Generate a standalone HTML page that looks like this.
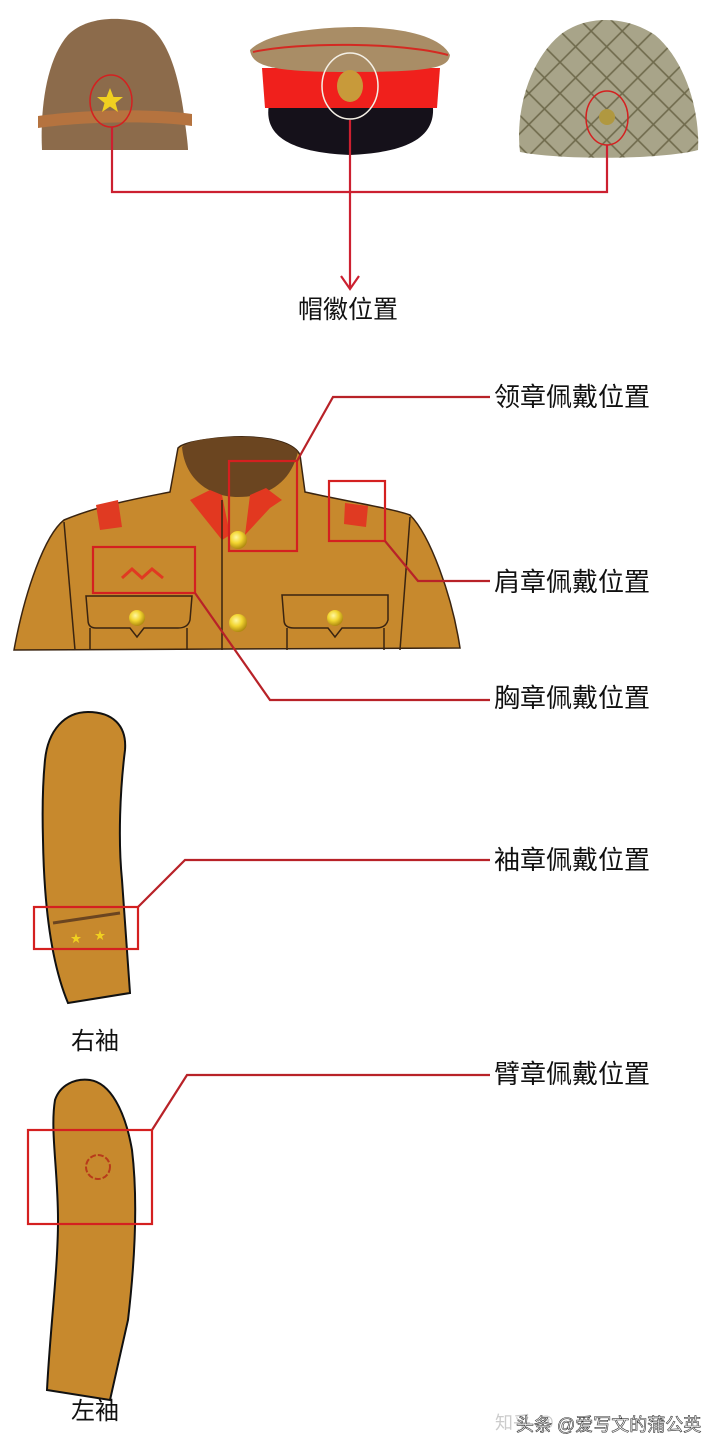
<!DOCTYPE html>
<html><head><meta charset="utf-8"><style>
html,body{margin:0;padding:0;background:#fff;}
svg{display:block}
text{font-family:"Liberation Sans","Noto Sans CJK SC",sans-serif;}
</style></head><body>
<svg width="720" height="1451" viewBox="0 0 720 1451" xmlns="http://www.w3.org/2000/svg">
<defs>
<radialGradient id="btn" cx="40%" cy="35%" r="65%"><stop offset="0" stop-color="#fff7a0"/><stop offset="0.5" stop-color="#f2d530"/><stop offset="1" stop-color="#b08a10"/></radialGradient>
<pattern id="net" width="22" height="22" patternUnits="userSpaceOnUse" patternTransform="rotate(45)"><rect width="22" height="22" fill="none" stroke="#6f6a4c" stroke-width="1.6"/></pattern>
</defs>
<!-- Left hat -->
<path d="M42,150 C40,110 46,60 68,35 C85,18 115,16 140,22 C165,30 178,70 184,115 C186,130 188,145 188,150 Z" fill="#8c6b4b"/>
<path d="M38,116 C80,110 150,108 192,114 L192,126 C150,120 80,122 38,128 Z" fill="#b5733f"/>
<polygon points="110,88 113.5,97 123,97 115.5,103 118,112 110,106.5 102,112 104.5,103 97,97 106.5,97" fill="#f0d020"/>
<ellipse cx="111" cy="101" rx="21" ry="26" fill="none" stroke="#d42020" stroke-width="1.5"/>
<!-- Peaked cap -->
<path d="M270,100 L432,100 C438,130 420,152 350,155 C280,152 262,130 270,100 Z" fill="#15111a"/>
<path d="M262,68 L440,68 L437,108 L265,108 Z" fill="#f0201c"/>
<path d="M250,50 C270,30 330,27 360,27 C400,28 440,35 450,55 C448,66 440,72 350,72 C270,72 252,66 250,50 Z" fill="#a98d66"/>
<path d="M253,52 C300,42 400,42 448,55" fill="none" stroke="#d42a22" stroke-width="2"/>
<ellipse cx="350" cy="86" rx="13" ry="16" fill="#c89a3a"/>
<ellipse cx="350" cy="86" rx="28" ry="33" fill="none" stroke="#f4f0e6" stroke-width="1.5"/>
<!-- Helmet -->
<path d="M520,152 C515,110 530,60 560,35 C585,15 625,15 655,35 C685,60 700,110 698,150 C660,160 560,160 520,152 Z" fill="#a8a489"/>
<path d="M520,152 C515,110 530,60 560,35 C585,15 625,15 655,35 C685,60 700,110 698,150 C660,160 560,160 520,152 Z" fill="url(#net)"/>
<circle cx="607" cy="117" r="8" fill="#b09840"/>
<ellipse cx="607" cy="118" rx="21" ry="27" fill="none" stroke="#d42020" stroke-width="1.5"/>
<!-- Connectors hats -->
<g fill="none" stroke="#cc2030" stroke-width="2.2">
<polyline points="112,127 112,192 607,192 607,145"/>
<line x1="350" y1="120" x2="350" y2="289"/>
<polyline points="341,276 350,289 359,276"/>
</g>
<text x="348" y="318" font-size="25" text-anchor="middle" fill="#111">帽徽位置</text>

<!-- Jacket -->
<path d="M178,448 C185,440 230,436 250,437 C275,438 295,444 300,455 L305,492 C340,500 390,508 410,515 C430,535 452,595 460,648 L14,650 C25,590 45,535 64,520 C100,505 140,498 170,492 Z" fill="#c7892d" stroke="#3a2410" stroke-width="1.5"/>
<path d="M182,447 C190,438 230,436 250,437 C275,438 292,444 298,452 C290,485 265,497 238,497 C210,497 185,480 182,447 Z" fill="#6b4520"/>
<path d="M190,500 L210,490 L222,495 L230,535 L222,540 Z" fill="#e23820"/>
<path d="M250,495 L266,488 L282,500 L270,508 L245,535 Z" fill="#e23820"/>
<path d="M96,505 L118,500 L122,527 L100,530 Z" fill="#e03a22"/>
<path d="M345,503 L368,506 L366,527 L344,524 Z" fill="#e03a22"/>
<g fill="none" stroke="#3a2410" stroke-width="1.5">
<line x1="222" y1="500" x2="222" y2="650"/>
<line x1="64" y1="522" x2="75" y2="650"/>
<line x1="410" y1="517" x2="400" y2="650"/>
<path d="M86,596 L192,596 L190,620 Q188,628 178,628 L144,628 L137,637 L130,628 L96,628 Q88,628 88,620 Z"/>
<line x1="90" y1="628" x2="90" y2="650"/><line x1="187" y1="628" x2="187" y2="650"/>
<path d="M282,595 L388,595 L388,620 Q386,628 376,628 L342,628 L335,637 L328,628 L294,628 Q284,628 284,620 Z"/>
<line x1="287" y1="628" x2="287" y2="650"/><line x1="384" y1="628" x2="384" y2="650"/>
</g>
<polyline points="122,578 132,569 142,578 152,569 163,578" fill="none" stroke="#e03a22" stroke-width="3"/>
<circle cx="238" cy="540" r="9" fill="url(#btn)"/>
<circle cx="238" cy="623" r="9" fill="url(#btn)"/>
<circle cx="137" cy="618" r="8" fill="url(#btn)"/>
<circle cx="335" cy="618" r="8" fill="url(#btn)"/>
<g fill="none" stroke="#d42020" stroke-width="2.2">
<rect x="229" y="461" width="68" height="90"/>
<rect x="329" y="481" width="56" height="60"/>
<rect x="93" y="547" width="102" height="46"/>
</g>
<g fill="none" stroke="#b82228" stroke-width="2.2">
<polyline points="297,461 333,397 490,397"/>
<polyline points="385,541 418,581 490,581"/>
<polyline points="195,593 270,700 490,700"/>
<polyline points="138,907 185,860 490,860"/>
<polyline points="152,1130 187,1075 490,1075"/>
</g>
<g font-size="26" fill="#111">
<text x="494" y="406">领章佩戴位置</text>
<text x="494" y="591">肩章佩戴位置</text>
<text x="494" y="707">胸章佩戴位置</text>
<text x="494" y="869">袖章佩戴位置</text>
<text x="494" y="1083">臂章佩戴位置</text>
</g>
<!-- Right sleeve -->
<path d="M45,760 C48,730 65,712 88,712 C112,712 127,725 125,750 C120,790 118,840 122,880 L130,993 L68,1003 C50,960 44,900 43,840 C42,805 43,780 45,760 Z" fill="#c7892d" stroke="#111" stroke-width="2"/>
<path d="M53,923 L120,913" stroke="#6b4520" stroke-width="3"/>
<text x="76" y="942" font-size="11" fill="#f0d020" text-anchor="middle">★</text>
<text x="100" y="939" font-size="11" fill="#f0d020" text-anchor="middle">★</text>
<rect x="34" y="907" width="104" height="42" fill="none" stroke="#d42020" stroke-width="2.2"/>
<text x="95" y="1049" font-size="24" text-anchor="middle" fill="#111">右袖</text>
<!-- Left sleeve -->
<path d="M55,1100 C60,1085 75,1078 90,1080 C110,1083 125,1110 132,1150 C138,1200 135,1260 128,1320 L110,1400 L47,1390 C50,1330 58,1270 58,1220 C58,1170 50,1130 55,1100 Z" fill="#c7892d" stroke="#111" stroke-width="2"/>
<circle cx="98" cy="1167" r="12" fill="none" stroke="#b83a1a" stroke-width="2" stroke-dasharray="6 2"/>
<rect x="28" y="1130" width="124" height="94" fill="none" stroke="#d42020" stroke-width="2.2"/>
<text x="95" y="1419" font-size="24" text-anchor="middle" fill="#111">左袖</text>
<!-- watermark -->
<text x="495" y="1429" font-size="18" fill="#ccc">知乎 @</text>
<text x="516" y="1431" font-size="18" fill="#fff" stroke="#333" stroke-width="0.6">头条 @爱写文的蒲公英</text>
</svg>
</body></html>
